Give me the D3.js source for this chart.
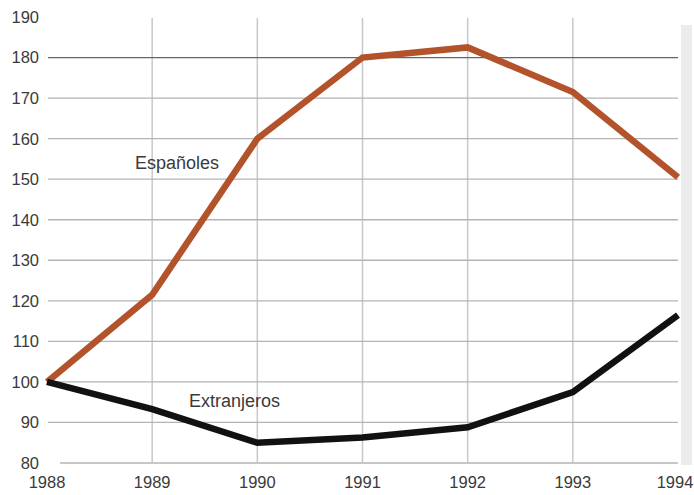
<!DOCTYPE html>
<html><head><meta charset="utf-8">
<script src="https://cdn.jsdelivr.net/npm/d3@7"></script>
<style>body{margin:0;background:#fff}svg{display:block}text{font-family:"Liberation Sans",Arial,sans-serif}</style>
</head><body>
<script>
const years = [1988, 1989, 1990, 1991, 1992, 1993, 1994];
const espanoles = [100, 121.5, 160, 180, 182.5, 171.5, 150.5];
const extranjeros = [100, 93.3, 85, 86.3, 88.8, 97.5, 116.5];
const yTicks = [80, 90, 100, 110, 120, 130, 140, 150, 160, 170, 180, 190];
const seriesNames = ["Españoles", "Extranjeros"];

const W = 694, H = 495;
const svg = d3.select("body").append("svg").attr("width", W).attr("height", H);
const x = d3.scaleLinear().domain([1988, 1994]).range([47, 678]);
const y = d3.scaleLinear().domain([80, 190]).range([463, 17]);

// right scan band
svg.append("rect").attr("x", 681).attr("y", 25).attr("width", 11).attr("height", 440).attr("fill", "#ececec");

// vertical gridlines
svg.append("g").selectAll("line").data(years.slice(1, 6)).join("line")
  .attr("x1", d => x(d)).attr("x2", d => x(d)).attr("y1", 18).attr("y2", 462)
  .attr("stroke", "#c8c8c8").attr("stroke-width", 1.5);

// horizontal gridlines
svg.append("g").selectAll("line").data(yTicks.filter(d => d < 190)).join("line")
  .attr("x1", d => d === 80 ? 60 : 48).attr("x2", 678)
  .attr("y1", d => y(d)).attr("y2", d => y(d))
  .attr("stroke", d => d === 180 ? "#666" : "#b4b4b4").attr("stroke-width", 1.3);

// y labels
svg.append("g").selectAll("text").data(yTicks).join("text")
  .attr("x", 39).attr("y", d => y(d)).attr("dy", "0.36em")
  .attr("text-anchor", "end").attr("font-size", 16.5).attr("fill", "#3a3a3a")
  .text(d => d);

// x labels
svg.append("g").selectAll("text").data(years).join("text")
  .attr("x", d => x(d) + (d === 1994 ? -3 : 0)).attr("y", 488)
  .attr("text-anchor", "middle").attr("font-size", 16.5).attr("fill", "#3a3a3a")
  .text(d => d);

const line = d3.line().x((d, i) => x(years[i])).y(d => y(d));
svg.append("path").datum(espanoles).attr("d", line)
  .attr("fill", "none").attr("stroke", "#b3532b").attr("stroke-width", 6.5).attr("stroke-linejoin", "miter");
svg.append("path").datum(extranjeros).attr("d", line)
  .attr("fill", "none").attr("stroke", "#111").attr("stroke-width", 6.5).attr("stroke-linejoin", "miter");

svg.append("text").attr("x", 135).attr("y", 169).attr("font-size", 18).attr("fill", "#3a3a3a").text(seriesNames[0]);
svg.append("text").attr("x", 189).attr("y", 407).attr("font-size", 18).attr("fill", "#3a3a3a").text(seriesNames[1]);
</script>
</body></html>
